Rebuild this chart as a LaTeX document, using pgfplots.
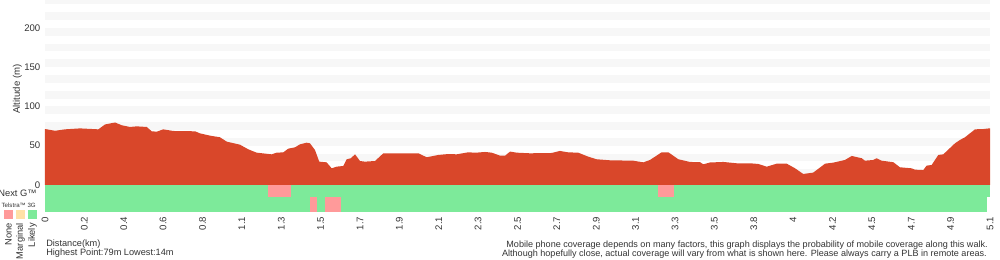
\documentclass[border=0pt]{standalone}
\usepackage{fontspec}
\setmainfont{Liberation Sans}
\usepackage{pgfplots}
\usepackage{pgfplotstable}
\pgfplotsset{compat=1.18}
\usetikzlibrary{calc}
\definecolor{elev}{HTML}{D9472A}
\definecolor{cgreen}{HTML}{7DEA9A}
\definecolor{cpink}{HTML}{FF9A9A}
\definecolor{cyellow}{HTML}{FFE1A6}
\definecolor{band}{HTML}{F7F7F7}
\definecolor{txt}{HTML}{333333}
\pgfplotstableread{
km alt
0 71.2
0.054 69
0.108 70.8
0.189 72
0.288 70.8
0.324 77
0.378 79.5
0.414 76
0.459 73.8
0.495 74.6
0.549 73.8
0.576 68.3
0.603 67.8
0.638 70.8
0.692 68.7
0.810 68.3
0.836 65.7
0.890 62.8
0.944 60.7
0.981 55.1
1.052 51.3
1.097 45.4
1.142 41.1
1.223 39
1.250 41.1
1.286 41.5
1.313 46.2
1.349 47.9
1.376 51.7
1.412 53.8
1.430 53
1.457 44.5
1.480 29.7
1.520 28.8
1.547 21.2
1.574 23.3
1.610 24.2
1.628 32.7
1.651 34
1.673 39
1.700 30.5
1.727 29.7
1.781 30.5
1.826 40.3
2.015 40.3
2.060 35.2
2.123 38.2
2.177 39.4
2.222 39
2.285 41.6
2.321 41
2.375 42
2.411 41.1
2.456 37.3
2.483 37.3
2.510 42.5
2.546 41.1
2.617 40.3
2.735 40.7
2.779 43.3
2.824 41.5
2.878 41.1
2.932 36
2.977 32.7
3.049 31.4
3.175 30.9
3.229 28.8
3.265 31.8
3.328 41.6
3.364 41.6
3.418 32.7
3.481 29.3
3.535 29
3.553 26.3
3.589 28.6
3.661 29.3
3.733 27.6
3.805 27.6
3.850 26.7
3.895 23.3
3.949 27.1
4.003 27.1
4.048 21.2
4.092 14
4.146 15.7
4.210 27.1
4.254 28.4
4.317 31.8
4.354 36.9
4.371 36
4.408 34
4.425 30.9
4.470 31.8
4.488 34
4.515 30.9
4.578 29
4.614 22.5
4.677 21.2
4.695 19.5
4.740 19
4.758 24.6
4.785 25.4
4.821 38.2
4.848 39
4.911 53
4.938 57.3
4.965 60.7
5.019 70.8
5.064 71.2
5.100 72.1
}\elevtable
\begin{document}
\begin{tikzpicture}[font=\fontsize{6.9}{8}\selectfont, text=txt]
\begin{axis}[
  name=ax,
  scale only axis, width=708.75pt, height=159pt,
  xmin=0, xmax=5.1, ymin=-34.4, ymax=235.4,
  axis line style={draw=none},
  major tick length=0pt,
  xtick={0,0.2125,0.425,0.6375,0.85,1.0625,1.275,1.4875,1.7,1.9125,2.125,2.3375,2.55,2.7625,2.975,3.1875,3.4,3.6125,3.825,4.0375,4.25,4.4625,4.675,4.8875,5.1},
  xticklabels={0,0.2,0.4,0.6,0.8,1.1,1.3,1.5,1.7,1.9,2.1,2.3,2.5,2.7,2.9,3.1,3.3,3.5,3.8,4,4.2,4.5,4.7,4.9,5.1},
  xticklabel style={rotate=90, anchor=east, font=\fontsize{7.2}{8}\selectfont, text=txt},
  ytick={0,50,100,150,200},
  yticklabel style={font=\fontsize{7.2}{8}\selectfont, text=txt},
  /pgf/number format/assume math mode=true,
  clip=true,
]
\coordinate (bl) at (rel axis cs:0,0);
\coordinate (tr) at (rel axis cs:1,1);
\fill[band] (axis cs:0,10) rectangle (axis cs:5.1,20);
\fill[band] (axis cs:0,30) rectangle (axis cs:5.1,40);
\fill[band] (axis cs:0,50) rectangle (axis cs:5.1,60);
\fill[band] (axis cs:0,70) rectangle (axis cs:5.1,80);
\fill[band] (axis cs:0,90) rectangle (axis cs:5.1,100);
\fill[band] (axis cs:0,110) rectangle (axis cs:5.1,120);
\fill[band] (axis cs:0,130) rectangle (axis cs:5.1,140);
\fill[band] (axis cs:0,150) rectangle (axis cs:5.1,160);
\fill[band] (axis cs:0,170) rectangle (axis cs:5.1,180);
\fill[band] (axis cs:0,190) rectangle (axis cs:5.1,200);
\fill[band] (axis cs:0,210) rectangle (axis cs:5.1,220);
\fill[band] (axis cs:0,230) rectangle (axis cs:5.1,240);
\addplot[fill=elev, draw=none] table[x=km, y=alt] {\elevtable} \closedcycle;
% Next G row
\addplot[fill=cgreen, draw=none] coordinates {(0,0) (5.1,0) (5.1,-15.3) (0,-15.3)} -- cycle;
\addplot[fill=cpink, draw=none] coordinates {(1.205,0) (1.326,0) (1.326,-15.3) (1.205,-15.3)} -- cycle;
\addplot[fill=cpink, draw=none] coordinates {(3.307,0) (3.395,0) (3.395,-15.3) (3.307,-15.3)} -- cycle;
% Telstra 3G row
\addplot[fill=cgreen, draw=none] coordinates {(0,-15.3) (5.082,-15.3) (5.082,-34.4) (0,-34.4)} -- cycle;
\addplot[fill=cpink, draw=none] coordinates {(1.428,-15.3) (1.470,-15.3) (1.470,-34.4) (1.428,-34.4)} -- cycle;
\addplot[fill=cpink, draw=none] coordinates {(1.513,-15.3) (1.597,-15.3) (1.597,-34.4) (1.513,-34.4)} -- cycle;
\end{axis}
\begin{scope}[shift={(bl)}, x=0.75pt, y=-0.75pt, shift={(-45,-212)}]
\node[rotate=90, font=\fontsize{7.2}{8}\selectfont] at (17.5,89) {Altitude (m)};
\node[anchor=base east, inner sep=0pt, font=\fontsize{7}{8}\selectfont] at (37,196.5) {Next G™};
\node[anchor=base east, inner sep=0pt, font=\fontsize{4.6}{5}\selectfont] at (36,207.5) {Telstra™ 3G};
\fill[cpink] (4,210) rectangle (12.7,218.7);
\fill[cyellow] (16,210) rectangle (24.7,218.7);
\fill[cgreen] (28,210) rectangle (36.7,218.7);
\node[rotate=90, anchor=east, inner sep=0pt, font=\fontsize{7}{8}\selectfont] at (8.5,223) {None};
\node[rotate=90, anchor=east, inner sep=0pt, font=\fontsize{7}{8}\selectfont] at (20.5,223) {Marginal};
\node[rotate=90, anchor=east, inner sep=0pt, font=\fontsize{7}{8}\selectfont] at (32.5,223) {Likely};
\node[anchor=base west, inner sep=0pt] at (46,246.5) {Distance(km)};
\node[anchor=base west, inner sep=0pt] at (46,255.5) {Highest Point:79m Lowest:14m};
\node[anchor=base east, inner sep=0pt, font=\fontsize{6.8}{8}\selectfont] at (988,247.5) {Mobile phone coverage depends on many factors, this graph displays the probability of mobile coverage along this walk.};
\node[anchor=base east, inner sep=0pt, font=\fontsize{6.8}{8}\selectfont] at (987,256.5) {Although hopefully close, actual coverage will vary from what is shown here. Please always carry a PLB in remote areas.};
\pgfresetboundingbox
\path[use as bounding box] (0,0) rectangle (1000,260);
\end{scope}
\end{tikzpicture}
\end{document}
